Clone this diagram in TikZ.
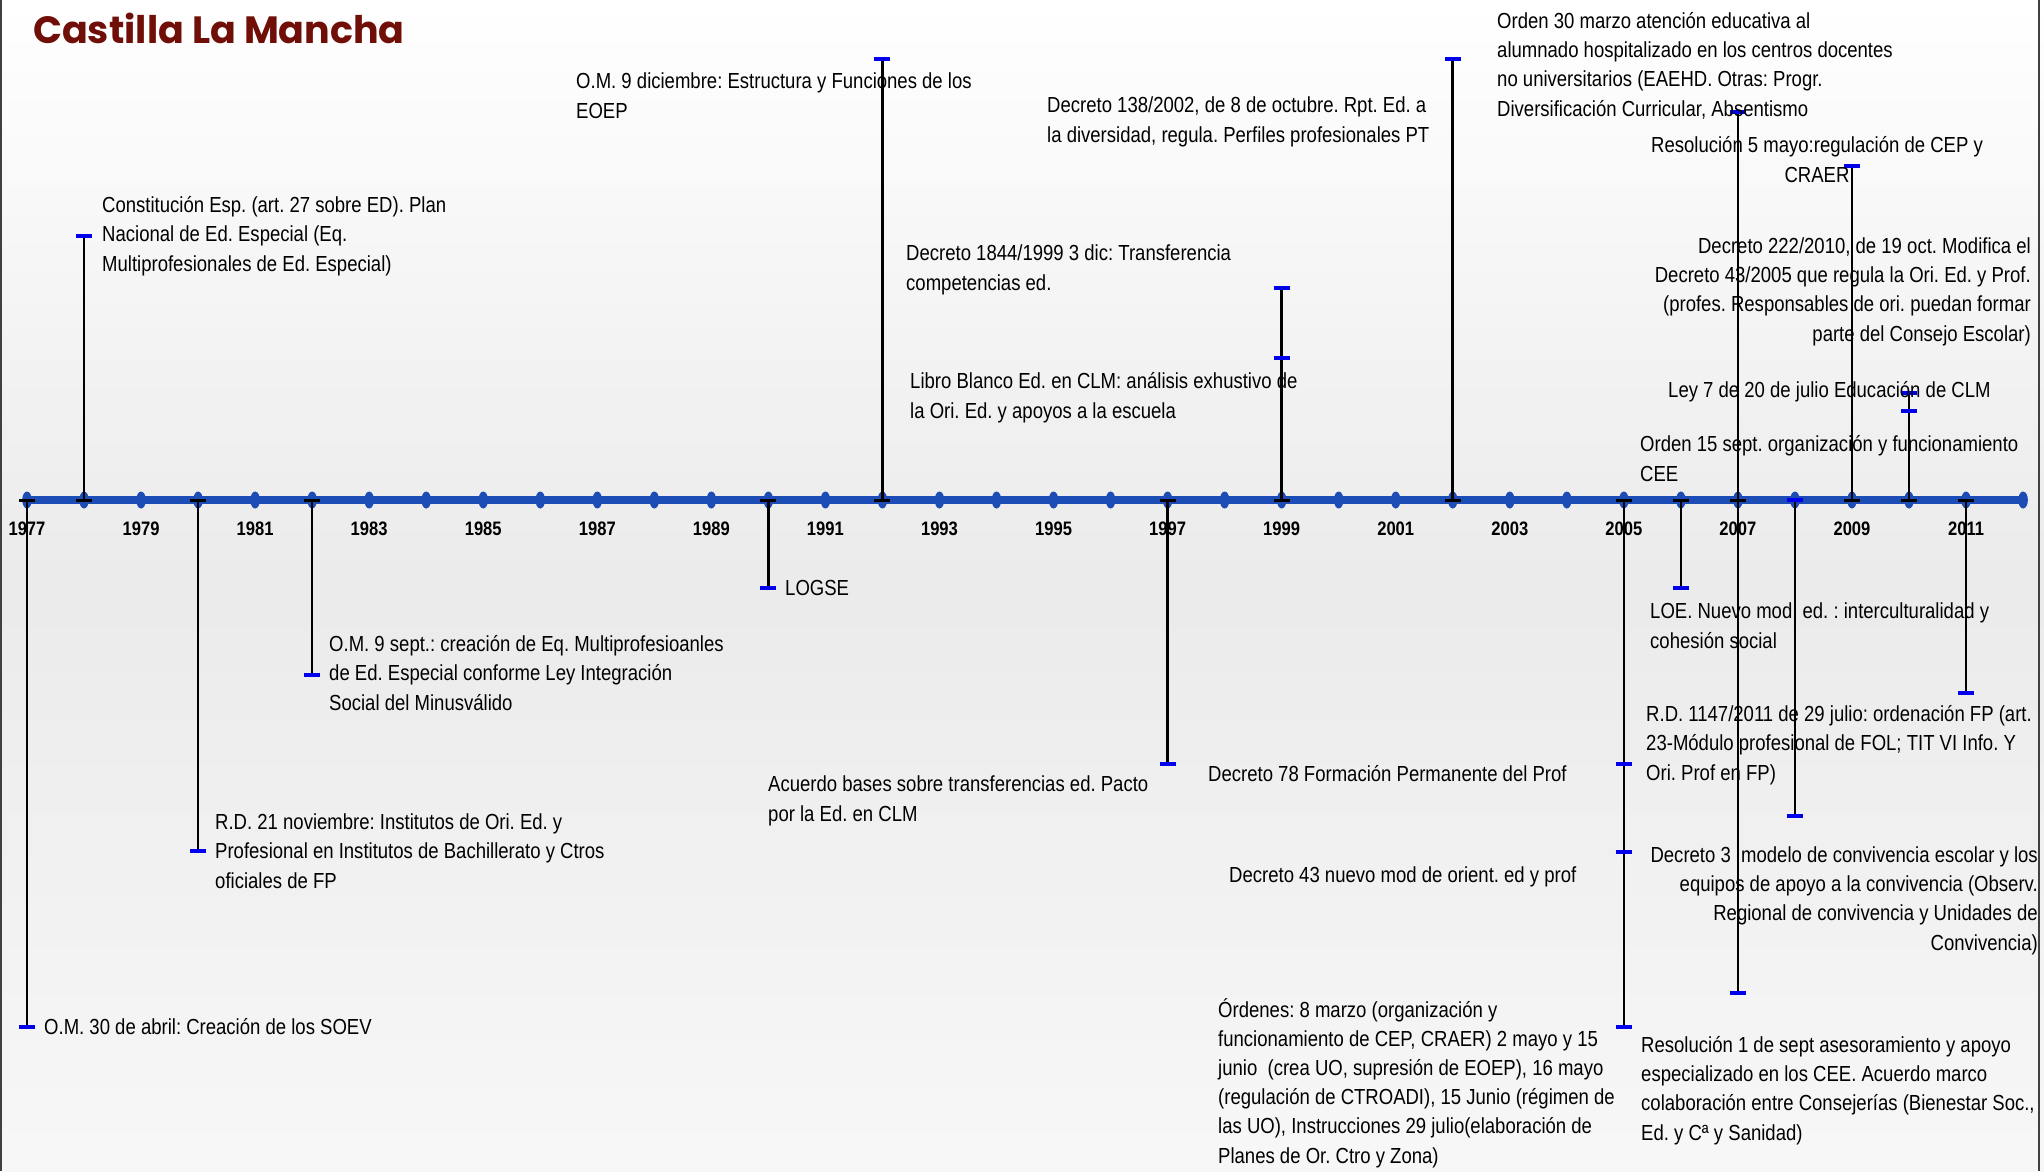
\documentclass[tikz,border=0pt]{standalone}
\usepackage{fontspec}
\setmainfont{Liberation Sans}[FakeStretch=0.85]
\newfontfamily\titlefont{Poppins}
\usetikzlibrary{calc}
\definecolor{axisblue}{RGB}{28,76,182}
\definecolor{capblue}{RGB}{0,0,235}
\definecolor{titlered}{RGB}{112,14,8}
\frenchspacing
\begin{document}
\begin{tikzpicture}[x=1pt,y=-1pt,
  txt/.style={font=\fontsize{21.8}{29.2}\selectfont, inner sep=0pt, anchor=base west, align=left},
  txtr/.style={txt, anchor=base east, align=right},
  txtc/.style={txt, anchor=base, align=center},
  yearlbl/.style={font=\fontsize{19.5}{19.5}\selectfont\bfseries, inner sep=0pt, anchor=base},
  stem/.style={black, line width=2.6pt},
  capbar/.style={capblue, line width=4.5pt},
  tickbar/.style={black, line width=3pt},
  axisline/.style={axisblue, line width=8pt}
]
\useasboundingbox (0,0) rectangle (2044,1171);
\shade[top color=white, bottom color=white!97!black, middle color=black!8] (0,0) rectangle (2044,1171);
\draw[black!75, line width=2pt] (1,0) -- (1,1171);
\draw[black!75, line width=2pt] (2039,0) -- (2039,1171);

% title
\node[font=\titlefont\fontsize{38}{38}\selectfont\bfseries, text=titlered, inner sep=0pt, anchor=base west] (title) at (33,43) {Castilla La Mancha};

% axis coordinates
\foreach \yr in {1977,...,2012} \coordinate (y\yr) at ({27+57.03*(\yr-1977)},500);
\draw[axisline] (y1977) -- (y2012);
\foreach \yr in {1977,...,2012} \fill[axisblue] (y\yr) ellipse (4.8pt and 8.5pt);
\foreach \yr in {1977,1979,...,2011} \node[yearlbl] (l\yr) at ($(y\yr)+(0,35)$) {\yr};

% end coordinates
\coordinate (e1977) at ($(y1977)+(0,527)$);
\coordinate (e1978) at ($(y1978)+(0,-264)$);
\coordinate (e1980) at ($(y1980)+(0,351)$);
\coordinate (e1982) at ($(y1982)+(0,175)$);
\coordinate (e1990) at ($(y1990)+(0,88)$);
\coordinate (e1992) at ($(y1992)+(0,-441)$);
\coordinate (e1997) at ($(y1997)+(0,264)$);
\coordinate (e1999) at ($(y1999)+(0,-212)$);
\coordinate (m1999) at ($(y1999)+(0,-142)$);
\coordinate (e2002) at ($(y2002)+(0,-441)$);
\coordinate (e2005) at ($(y2005)+(0,527)$);
\coordinate (m2005a) at ($(y2005)+(0,264)$);
\coordinate (m2005b) at ($(y2005)+(0,352)$);
\coordinate (e2006) at ($(y2006)+(0,88)$);
\coordinate (t2007) at ($(y2007)+(0,-388)$);
\coordinate (e2007) at ($(y2007)+(0,493)$);
\coordinate (e2008) at ($(y2008)+(0,316)$);
\coordinate (e2009) at ($(y2009)+(0,-334)$);
\coordinate (e2010) at ($(y2010)+(0,-107)$);
\coordinate (m2010) at ($(y2010)+(0,-89)$);
\coordinate (e2011) at ($(y2011)+(0,193)$);

% stems
\foreach \yr in {1977,1978,1980,1982,1990,1992,1997,1999,2002,2005,2006,2008,2009,2010,2011}
  \draw[stem] (y\yr) -- (e\yr);
\draw[stem] (t2007) -- (e2007);

% ticks on axis
\foreach \yr in {1977,1978,1980,1982,1990,1992,1997,1999,2002,2005,2006,2007,2009,2010,2011}
  \draw[tickbar] ([xshift=-8pt]y\yr) -- ([xshift=8pt]y\yr);
\draw[capbar] ([xshift=-8pt]y2008) -- ([xshift=8pt]y2008);

% caps
\foreach \c in {e1977,e1978,e1980,e1982,e1990,e1992,e1997,e1999,m1999,e2002,e2005,m2005a,m2005b,e2006,t2007,e2007,e2008,e2009,e2010,m2010,e2011}
  \draw[capbar] ([xshift=-8pt]\c) -- ([xshift=8pt]\c);

% texts (base anchor = baseline of the last line)
\node[txt] (n1977) at (44,1034) {O.M. 30 de abril: Creación de los SOEV};
\node[txt] (n1978) at (102,271) {Constitución Esp. (art. 27 sobre ED). Plan\\Nacional de Ed. Especial (Eq.\\Multiprofesionales de Ed. Especial)};
\node[txt] (n1980) at (215,888) {R.D. 21 noviembre: Institutos de Ori. Ed. y\\Profesional en Institutos de Bachillerato y Ctros\\oficiales de FP};
\node[txt] (n1982) at (329,710) {O.M. 9 sept.: creación de Eq. Multiprofesioanles\\de Ed. Especial conforme Ley Integración\\Social del Minusválido};
\node[txt] (n1990) at (785,595) {LOGSE};
\node[txt] (n1992) at (576,118) {O.M. 9 diciembre: Estructura y Funciones de los\\EOEP};
\node[txt] (n1997) at (768,821) {Acuerdo bases sobre transferencias ed. Pacto\\por la Ed. en CLM};
\node[txt] (n1999a) at (906,290) {Decreto 1844/1999 3 dic: Transferencia\\competencias ed.};
\node[txt] (n1999b) at (910,418) {Libro Blanco Ed. en CLM: análisis exhustivo de\\la Ori. Ed. y apoyos a la escuela};
\node[txt] (n2002) at (1047,142) {Decreto 138/2002, de 8 de octubre. Rpt. Ed. a\\la diversidad, regula. Perfiles profesionales PT};
\node[txt] (n2005a) at (1208,781) {Decreto 78 Formación Permanente del Prof};
\node[txt] (n2005b) at (1229,882) {Decreto 43 nuevo mod de orient. ed y prof};
\node[txt] (n2005c) at (1218,1163) {Órdenes: 8 marzo (organización y\\funcionamiento de CEP, CRAER) 2 mayo y 15\\junio\ \ (crea UO, supresión de EOEP), 16 mayo\\(regulación de CTROADI), 15 Junio (régimen de\\las UO), Instrucciones 29 julio(elaboración de\\Planes de Or. Ctro y Zona)};
\node[txt] (n2007a) at (1497,116) {Orden 30 marzo atención educativa al\\alumnado hospitalizado en los centros docentes\\no universitarios (EAEHD. Otras: Progr.\\Diversificación Curricular, Absentismo};
\node[txtc] (n2009) at (1817,182) {Resolución 5 mayo:regulación de CEP y\\CRAER};
\node[txtr] (n2010a) at (2031,341) {Decreto 222/2010, de 19 oct. Modifica el\\Decreto 43/2005 que regula la Ori. Ed. y Prof.\\(profes. Responsables de ori. puedan formar\\parte del Consejo Escolar)};
\node[txt] (n2010b) at (1668,397) {Ley 7 de 20 de julio Educación de CLM};
\node[txt] (n2010c) at (1640,481) {Orden 15 sept. organización y funcionamiento\\CEE};
\node[txt] (n2006) at (1650,648) {LOE. Nuevo mod. ed. : interculturalidad y\\cohesión social};
\node[txt] (n2011) at (1646,780) {R.D. 1147/2011 de 29 julio: ordenación FP (art.\\23-Módulo profesional de FOL; TIT VI Info. Y\\Ori. Prof en FP)};
\node[txtr] (n2008) at (2038,950) {Decreto 3\ \ modelo de convivencia escolar y los\\equipos de apoyo a la convivencia (Observ.\\Regional de convivencia y Unidades de\\Convivencia)};
\node[txt] (n2007b) at (1641,1140) {Resolución 1 de sept asesoramiento y apoyo\\especializado en los CEE. Acuerdo marco\\colaboración entre Consejerías (Bienestar Soc.,\\Ed. y Cª y Sanidad)};
\end{tikzpicture}
\end{document}
